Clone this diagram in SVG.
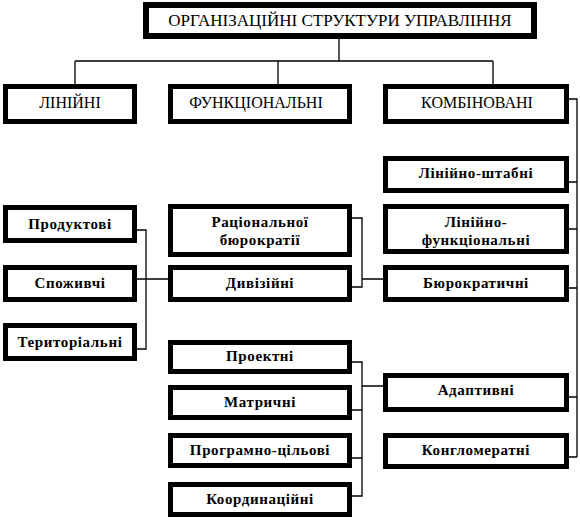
<svg xmlns="http://www.w3.org/2000/svg" width="580" height="521" viewBox="0 0 580 521">
<style>
.box{fill:#fff;stroke:#000;stroke-width:5}
.top{stroke-width:6}
text{font-family:'Liberation Serif','DejaVu Serif',serif;fill:#000;text-anchor:middle}
.hd{font-size:16px}
.tt{font-size:17px}
.lb{font-size:15px;font-weight:bold;letter-spacing:0.6px}
.cn{fill:none;stroke:#000;stroke-width:1.3}
</style>
<rect width="580" height="521" fill="#fff"/>
<g id="connectors">
<path class="cn" d="M339 39V61M75 61H493M75 61V84M278 61V84M493 61V84"/>
<path class="cn" d="M569 99H577V457M569 182H577M569 229H577M569 288H577M569 397H577M569 457H577"/>
<path class="cn" d="M137 230H146V349H137M137 279H168"/>
<path class="cn" d="M352 218H362V287H352M362 279H384"/>
<path class="cn" d="M352 362H362V496H352M352 410H362M352 458H362M362 386H384"/>
</g>
<g id="n-root"><rect class="box top" x="146" y="5" width="388" height="31"/><text class="hd tt" x="340" y="26">ОРГАНІЗАЦІЙНІ СТРУКТУРИ УПРАВЛІННЯ</text></g>
<g id="n-linear"><rect class="box" x="5.5" y="86.5" width="129" height="35"/><text class="hd" x="70" y="108">ЛІНІЙНІ</text></g>
<g id="n-functional"><rect class="box" x="170.5" y="86.5" width="179" height="35"/><text class="hd" x="256" y="108">ФУНКЦІОНАЛЬНІ</text></g>
<g id="n-combined"><rect class="box" x="385.5" y="86.5" width="181" height="35"/><text class="hd" x="477" y="108">КОМБІНОВАНІ</text></g>
<g id="n-staff"><rect class="box" x="385.5" y="158.5" width="181" height="32"/><text class="lb" x="476" y="178">Лінійно-штабні</text></g>
<g id="n-linfunc"><rect class="box" x="385.5" y="206.5" width="181" height="45"/><text class="lb" x="476" y="227">Лінійно-</text><text class="lb" x="476" y="245">функціональні</text></g>
<g id="n-bureau"><rect class="box" x="385.5" y="267.5" width="181" height="32"/><text class="lb" x="476" y="288">Бюрократичні</text></g>
<g id="n-adapt"><rect class="box" x="385.5" y="375.5" width="181" height="34"/><text class="lb" x="476" y="395">Адаптивні</text></g>
<g id="n-conglo"><rect class="box" x="385.5" y="435.5" width="181" height="31"/><text class="lb" x="476" y="455">Конгломератні</text></g>
<g id="n-product"><rect class="box" x="5.5" y="207.5" width="129" height="33"/><text class="lb" x="70" y="229">Продуктові</text></g>
<g id="n-consumer"><rect class="box" x="5.5" y="267.5" width="129" height="32"/><text class="lb" x="70" y="288">Споживчі</text></g>
<g id="n-territory"><rect class="box" x="5.5" y="325.5" width="129" height="33"/><text class="lb" x="70" y="347">Територіальні</text></g>
<g id="n-rational"><rect class="box" x="170.5" y="206.5" width="179" height="48"/><text class="lb" x="260" y="227">Раціональної</text><text class="lb" x="260" y="245">бюрократії</text></g>
<g id="n-division"><rect class="box" x="170.5" y="267.5" width="179" height="32"/><text class="lb" x="260" y="288">Дивізійні</text></g>
<g id="n-project"><rect class="box" x="170.5" y="342.5" width="179" height="29"/><text class="lb" x="260" y="361">Проектні</text></g>
<g id="n-matrix"><rect class="box" x="170.5" y="387.5" width="179" height="30"/><text class="lb" x="260" y="407">Матричні</text></g>
<g id="n-program"><rect class="box" x="170.5" y="435.5" width="179" height="30"/><text class="lb" x="260" y="455">Програмно-цільові</text></g>
<g id="n-coord"><rect class="box" x="170.5" y="484.5" width="179" height="30"/><text class="lb" x="260" y="504">Координаційні</text></g>
</svg>
